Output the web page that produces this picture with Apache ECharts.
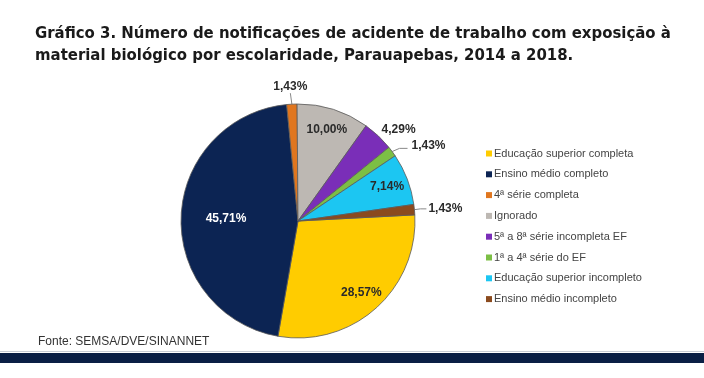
<!DOCTYPE html>
<html><head><meta charset="utf-8">
<script src="https://cdn.jsdelivr.net/npm/echarts@6/dist/echarts.min.js"></script>
<style>html,body{margin:0;padding:0;background:#fff}#c{width:704px;height:378px}</style>
</head><body><div id="c"></div>
<script>
const categories = ['Educação superior completa','Ensino médio completo','4ª série completa','Ignorado','5ª a 8ª série incompleta EF','1ª a 4ª série do EF','Educação superior incompleto','Ensino médio incompleto'];
const counts = [20, 32, 1, 7, 3, 1, 5, 1];
const colors = ['#FFCC00','#0C2453','#E0761F','#BDB8B3','#7A2EB8','#7CBF45','#1CC6F2','#8B4A1E'];
const total = counts.reduce((a,b)=>a+b,0);
const fmt = v => (v/total*100).toFixed(2).replace('.', ',') + '%';
const insideIdx = [0,3,6];
const innerIdx = [1];

const chart = echarts.init(document.getElementById('c'));
const R = 117, C = [298, 221];
const labelFont = {fontFamily:'Arial, Liberation Sans, sans-serif', fontWeight:'bold', fontSize:12, color:'#2a2a2a'};
const outsideLine = {
  2:{length:10,length2:0},
  4:{length:2,length2:0},
  5:{length:12,length2:8},
  7:{length:8,length2:6}
};
const isOut = i => !insideIdx.includes(i) && !innerIdx.includes(i);
const overlay = (rr, idxs, extra) => ({type:'pie', center:C, radius:[0, rr], startAngle:3, clockwise:true, silent:true,
  label:{show:true, position:'inside', formatter:p=>fmt(p.value), ...labelFont, ...(extra||{})},
  labelLine:{show:false}, itemStyle:{color:'rgba(0,0,0,0)'}, emphasis:{disabled:true}, legendHoverLink:false,
  data:categories.map((n,i)=>({name:n+' ', value:counts[i], label:{show:idxs.includes(i)}}))});
chart.setOption({
  animation:false,
  title:{text:'Gráfico 3. Número de notificações de acidente de trabalho com exposição à\nmaterial biológico por escolaridade, Parauapebas, 2014 a 2018.',
    left:30, top:18,
    textStyle:{fontFamily:"'DejaVu Sans Condensed',sans-serif", fontWeight:'bold', fontSize:16.6, lineHeight:22, color:'#1a1a1a'}},
  legend:{orient:'vertical', left:481, top:143, itemWidth:6, itemHeight:6, itemGap:9.8, icon:'rect',
    itemStyle:{borderWidth:0},
    textStyle:{fontFamily:'Arial, Liberation Sans, sans-serif', fontSize:11, color:'#444', padding:[0,0,0,-3]},
    data:categories},
  graphic:[
    {type:'text', left:38, top:336, style:{text:'Fonte: SEMSA/DVE/SINANNET', font:'12px Arial, Liberation Sans, sans-serif', fill:'#333'}},
    {type:'rect', left:0, top:351, shape:{width:704, height:1}, style:{fill:'#c8cdd6'}},
    {type:'rect', left:0, top:353, shape:{width:704, height:10}, style:{fill:'#0A1F45'}}
  ],
  series:[
    {type:'pie', center:C, radius:R, startAngle:3, clockwise:true,
      label:{show:true, position:'outside', formatter:p=>fmt(p.value), ...labelFont, distanceToLabelLine:2},
      labelLine:{show:true, lineStyle:{color:'#888', width:1}},
      itemStyle:{borderColor:'#5a5a5a', borderWidth:0.8},
      emphasis:{disabled:true},
      labelLayout:function(p){
        if(p.dataIndex===2){ const pt=p.labelLinePoints[1]; return {x:pt[0]-1, y:pt[1]-1, align:'center', verticalAlign:'bottom'}; }
        if(p.dataIndex===4){ return {dy:-5}; }
        if(p.dataIndex===5){ return {dy:-3, dx:2}; }
      },
      data:categories.map((n,i)=>({name:n, value:counts[i], itemStyle:{color:colors[i]},
        label:{show:isOut(i)},
        labelLine: isOut(i) ? Object.assign({show: i!==4}, outsideLine[i]) : {show:false}}))
    },
    overlay(R*1.58, insideIdx),
    overlay(R*1.18, innerIdx, {color:'#fff'})
  ]
});
</script></body></html>
